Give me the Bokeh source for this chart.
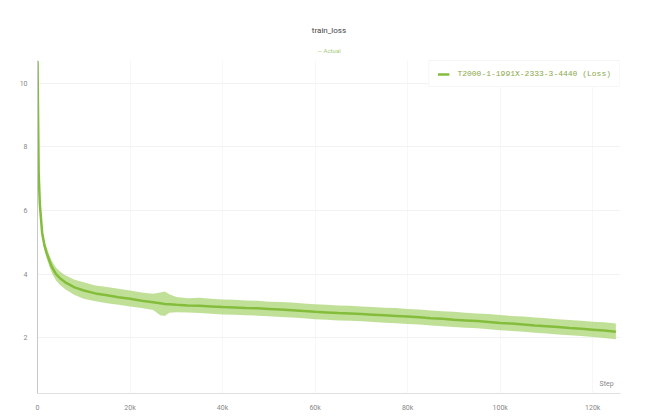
from bokeh.plotting import figure
from bokeh.models import Range1d, Title, Label, Legend, LegendItem, FixedTicker, ColumnDataSource
from bokeh.embed import file_html
from bokeh.resources import INLINE

# ---- data ----
steps = [0, 250, 500, 1000, 1500, 2000, 3000, 4000, 5000, 6000, 8000, 10000,
         12500, 15000, 17500, 20000, 22500, 25000, 26500, 27500, 28500, 30000, 32500, 35000,
         37500, 40000, 42500, 45000, 47500, 50000, 52500, 55000, 57500, 60000,
         62500, 65000, 67500, 70000, 72500, 75000, 77500, 80000, 82500, 85000,
         87500, 90000, 92500, 95000, 97500, 100000, 102500, 105000, 107500, 110000,
         112500, 115000, 117500, 120000, 122500, 125000]
loss_smooth = [10.70, 7.20, 6.20, 5.30, 4.90, 4.65, 4.25, 4.00, 3.85, 3.74, 3.58, 3.48,
               3.39, 3.33, 3.27, 3.22, 3.16, 3.11, 3.08, 3.06, 3.05, 3.03, 3.01, 3.00,
               2.98, 2.96, 2.95, 2.93, 2.92, 2.90, 2.88, 2.86, 2.84, 2.81,
               2.79, 2.77, 2.76, 2.74, 2.72, 2.70, 2.68, 2.66, 2.64, 2.61,
               2.59, 2.56, 2.54, 2.52, 2.49, 2.46, 2.44, 2.41, 2.38, 2.36,
               2.33, 2.30, 2.28, 2.25, 2.22, 2.18]
loss_high = [10.72, 7.28, 6.30, 5.42, 5.04, 4.82, 4.44, 4.20, 4.06, 3.96, 3.82, 3.74,
             3.64, 3.59, 3.54, 3.48, 3.42, 3.38, 3.42, 3.45, 3.36, 3.28, 3.24, 3.25,
             3.22, 3.20, 3.19, 3.17, 3.16, 3.13, 3.12, 3.10, 3.07, 3.05,
             3.03, 3.01, 3.00, 2.98, 2.96, 2.94, 2.93, 2.90, 2.88, 2.85,
             2.83, 2.81, 2.78, 2.76, 2.74, 2.71, 2.68, 2.66, 2.63, 2.61,
             2.58, 2.55, 2.53, 2.50, 2.48, 2.44]
loss_low = [10.68, 7.12, 6.10, 5.18, 4.76, 4.48, 4.06, 3.80, 3.64, 3.52, 3.34, 3.22,
            3.14, 3.08, 3.03, 2.98, 2.93, 2.87, 2.70, 2.68, 2.78, 2.80, 2.79, 2.77,
            2.75, 2.73, 2.72, 2.70, 2.69, 2.67, 2.65, 2.63, 2.61, 2.58,
            2.56, 2.54, 2.53, 2.51, 2.49, 2.47, 2.45, 2.43, 2.41, 2.38,
            2.36, 2.33, 2.31, 2.29, 2.26, 2.23, 2.21, 2.18, 2.15, 2.13,
            2.10, 2.07, 2.05, 2.02, 1.99, 1.95]
x_ticks = [0, 20000, 40000, 60000, 80000, 100000, 120000]
x_tick_labels = ["0", "20k", "40k", "60k", "80k", "100k", "120k"]
y_ticks = [2, 4, 6, 8, 10]
run_name = "T2000-1-1991X-2333-3-4440 (Loss)"

src = ColumnDataSource(dict(x=steps, y=loss_smooth, hi=loss_high, lo=loss_low))

p = figure(width=652, height=419, output_backend="svg", toolbar_location=None,
           x_range=Range1d(0, 126000), y_range=Range1d(0.24, 10.72),
           min_border_left=37, min_border_right=32, min_border_top=60, min_border_bottom=26,
           background_fill_color="white", border_fill_color="white")
p.outline_line_color = None

p.title.text = "train_loss"
p.title.align = "center"
p.title.text_font = "Roboto"
p.title.text_font_size = "8px"
p.title.text_font_style = "normal"
p.title.text_color = "#444444"
p.title.standoff = 5
sub = Title(text="— Actual", align="center", text_font="Roboto", text_font_size="6px",
            text_font_style="normal", text_color="#a8c878", standoff=14)
p.add_layout(sub, "above")

band = p.varea(x="x", y1="lo", y2="hi", source=src, fill_color="#acd674", fill_alpha=0.75)
ln = p.line(x="x", y="y", source=src, line_color="#84bd3c", line_width=2.5)

p.xaxis.ticker = FixedTicker(ticks=x_ticks)
p.xaxis.major_label_overrides = {t: l for t, l in zip(x_ticks, x_tick_labels)}
p.yaxis.ticker = FixedTicker(ticks=y_ticks)
for ax in (p.xaxis, p.yaxis):
    ax.major_label_text_font = "Roboto"
    ax.major_label_text_font_size = "7px"
    ax.major_label_text_color = "#888888"
    ax.major_tick_line_color = "#e6e6e6"
    ax.major_tick_out = 0
    ax.major_tick_in = 0
    ax.minor_tick_line_color = None
p.xaxis.axis_line_color = "#e0e0e0"
p.yaxis.axis_line_color = "#c8c8c8"
p.xaxis.major_label_standoff = 10
p.yaxis.major_label_standoff = 10
p.ygrid.grid_line_color = "#f2f2f2"
p.xgrid.grid_line_color = "#f7f7f7"

p.add_layout(Label(x=124500, y=0.42, text="Step", text_align="right", text_font="Roboto",
                   text_font_size="7px", text_color="#888888"))

legend = Legend(items=[LegendItem(label=run_name, renderers=[ln])], location="top_right",
                label_text_font="Liberation Mono", label_text_font_size="8px", label_text_color="#8aa84a",
                border_line_color="#eeeeee", background_fill_color="white", background_fill_alpha=1.0,
                glyph_width=12, glyph_height=8, padding=8, spacing=0, margin=0,
                label_standoff=8)
p.add_layout(legend)

open("out.html", "w").write(file_html(p, INLINE))
